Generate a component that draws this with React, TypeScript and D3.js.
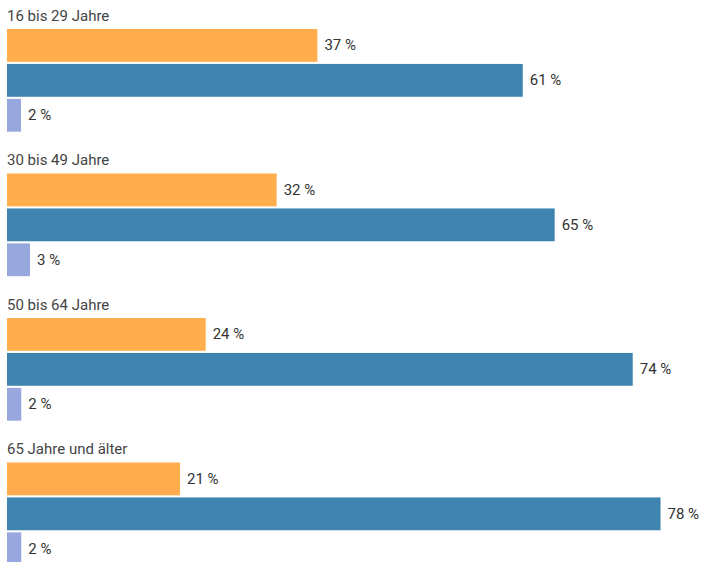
import React from "react";
import * as d3 from "d3";

const groups = ["16 bis 29 Jahre", "30 bis 49 Jahre", "50 bis 64 Jahre", "65 Jahre und älter"];
const seriesKeys = ["a", "b", "c"];
const seriesColors = ["#ffad4d", "#3e84ae", "#98a7de"];
const valuesA = [36.95, 32.1, 23.65, 20.6];
const valuesB = [61.4, 65.2, 74.49, 77.8];
const valuesC = [1.67, 2.74, 1.7, 1.7];
const seriesValues = [valuesA, valuesB, valuesC];

const W = 702;
const H = 562;

export default function App() {
  const x = d3.scaleLinear().domain([0, 100]).range([7, 847]);
  const gy = d3.scaleBand<string>().domain(groups).range([29, 29 + 144.5 * 4]).paddingInner(0).paddingOuter(0);
  const by = d3.scaleBand<string>().domain(seriesKeys).range([0, 102.7]).paddingInner(0.06).paddingOuter(0);

  return (
    <svg width={W} height={H} style={{ position: "absolute", left: 0, top: 0, background: "#fff" }}
      fontFamily="Roboto, 'Noto Sans', sans-serif">
      {groups.map((g, gi) => {
        const top = gy(g)!;
        return (
          <g key={g}>
            <text x={7} y={top - 8.5} fontSize={15} fill="#444">{g}</text>
            {seriesKeys.map((k, si) => {
              const v = seriesValues[si][gi];
              const y0 = top + by(k)!;
              const h = by.bandwidth();
              return (
                <g key={k}>
                  <rect x={x(0)} y={y0} width={x(v) - x(0)} height={h} fill={seriesColors[si]} />
                  <text x={x(v) + 7} y={y0 + h / 2 + 5} fontSize={15} fill="#333">
                    {`${Math.round(v)} %`}
                  </text>
                </g>
              );
            })}
          </g>
        );
      })}
    </svg>
  );
}
